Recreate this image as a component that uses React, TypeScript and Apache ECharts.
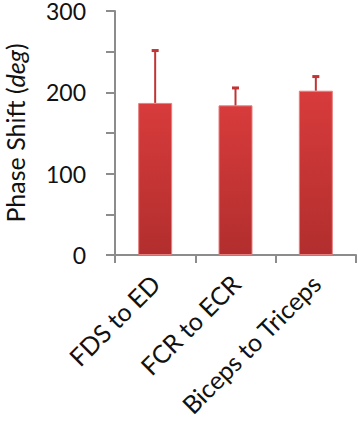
import React, { useEffect, useRef } from "react";
import * as echarts from "echarts";

const categories = ["FDS to ED", "FCR to ECR", "Biceps to Triceps"];
const means = [187, 184, 202];
const errorTops = [252, 206, 220];
const yTicks = [0, 100, 200, 300];

export default function App() {
  const ref = useRef<HTMLDivElement>(null);
  useEffect(() => {
    if (!ref.current) return;
    const chart = echarts.init(ref.current, null, { renderer: "svg" });
    const font = "Lato";
    chart.setOption({
      animation: false,
      grid: { left: 115, top: 11, right: 2, bottom: 172, containLabel: false, outerBoundsMode: "none" },
      xAxis: {
        type: "category",
        data: categories,
        axisLine: { lineStyle: { color: "#8c8c8c", width: 2 } },
        axisTick: { show: true, length: 8, lineStyle: { color: "#8c8c8c", width: 2 } },
        axisLabel: {
          rotate: 45,
          interval: 0,
          margin: 24,
          color: "#111",
          fontFamily: font,
          fontSize: 25,
        },
      },
      yAxis: {
        type: "value",
        min: 0,
        max: 300,
        interval: 50,
        splitLine: { show: false },
        axisLine: { show: true, lineStyle: { color: "#8c8c8c", width: 2 } },
        axisTick: { show: true, length: 9, lineStyle: { color: "#8c8c8c", width: 2 } },
        axisLabel: {
          margin: 29,
          color: "#111",
          fontFamily: font,
          fontSize: 23,
          lineHeight: 18,
          formatter: (v: number) => (yTicks.includes(v) ? String(v) : ""),
        },
        name: "{n|Phase Shift (}{i|deg}{n|)}",
        nameLocation: "middle",
        nameGap: 88,
        nameRotate: 90,
        nameTextStyle: {
          color: "#111",
          fontFamily: font,
          fontSize: 25,
          lineHeight: 25,
          rich: {
            n: { fontFamily: font, fontSize: 25, lineHeight: 25, color: "#111" },
            i: { fontStyle: "italic", fontFamily: font, fontSize: 25, lineHeight: 25, color: "#111" },
          },
        },
      },
      series: [
        {
          type: "bar",
          data: means,
          barWidth: 34,
          itemStyle: {
            color: new echarts.graphic.LinearGradient(0, 0, 0, 1, [
              { offset: 0, color: "#d83b3b" },
              { offset: 1, color: "#b22e2e" },
            ]),
            borderColor: "#e58080",
            borderWidth: 1,
          },
        },
        {
          type: "custom",
          data: means.map((m, i) => [i, m, errorTops[i]]),
          z: 3,
          renderItem: (params: any, api: any) => {
            const i = api.value(0);
            const base = api.coord([i, api.value(1)]);
            const top = api.coord([i, api.value(2)]);
            return {
              type: "group",
              children: [
                {
                  type: "line",
                  shape: { x1: base[0], y1: base[1], x2: top[0], y2: top[1] },
                  style: { stroke: "#c23434", lineWidth: 2 },
                },
                {
                  type: "rect",
                  shape: { x: top[0] - 3.5, y: top[1] - 1, width: 7, height: 3 },
                  style: { fill: "#c23434" },
                },
              ],
            };
          },
        },
      ],
    });
    return () => chart.dispose();
  }, []);
  return <div ref={ref} style={{ width: 358, height: 427, position: "absolute", left: 0, top: 0 }} />;
}
